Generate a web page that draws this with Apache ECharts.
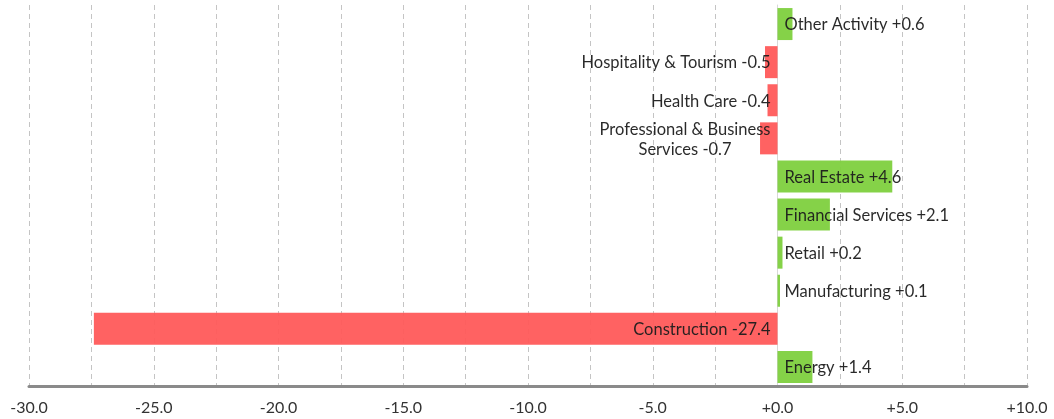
<!DOCTYPE html>
<html>
<head>
<meta charset="utf-8">
<script src="https://cdn.jsdelivr.net/npm/echarts@6/dist/echarts.min.js"></script>
<style>
html,body{margin:0;padding:0;background:#fff;}
#chart{width:1054px;height:419px;}
</style>
</head>
<body>
<div id="chart"></div>
<script>
// Categories from bottom to top
const categories = ["Energy", "Construction", "Manufacturing", "Retail", "Financial Services", "Real Estate", "Professional & Business Services", "Health Care", "Hospitality & Tourism", "Other Activity"];
const values = [1.4, -27.4, 0.1, 0.2, 2.1, 4.6, -0.7, -0.4, -0.5, 0.6];
const tickLabels = ["-30.0", "-25.0", "-20.0", "-15.0", "-10.0", "-5.0", "+0.0", "+5.0", "+10.0"];

const POS = '#7ED03E', NEG = '#FF5A5A';
function fmt(v){ return (v >= 0 ? '+' : '') + v.toFixed(1); }

const data = values.map((v, i) => {
  const name = categories[i];
  let label;
  if (name === "Professional & Business Services") {
    label = {
      position: 'insideRight',
      formatter: '{c|Professional & Business}\n{c|Services ' + fmt(v) + '}'
    };
  } else {
    label = { position: v >= 0 ? 'insideLeft' : 'insideRight' };
  }
  return {
    value: v,
    itemStyle: { color: v >= 0 ? POS : NEG },
    label: label
  };
});

const chart = echarts.init(document.getElementById('chart'));
chart.setOption({
  animation: false,
  grid: { left: 29, right: 27, top: 5, bottom: 33, containLabel: false },
  xAxis: {
    type: 'value',
    min: -30, max: 10, interval: 2.5,
    axisLine: { show: true, onZero: false, lineStyle: { color: '#8a8a8a', width: 3 } },
    axisTick: { show: false },
    splitLine: { show: true, lineStyle: { color: '#c4c4c4', type: [5, 4], width: 1 } },
    axisLabel: {
      margin: 14,
      fontFamily: 'Lato', fontSize: 16, color: '#333',
      formatter: function (v) {
        const s = fmt(v);
        return tickLabels.indexOf(s) >= 0 ? s : '';
      }
    }
  },
  yAxis: {
    type: 'category',
    data: categories,
    axisLine: { show: true, onZero: true, lineStyle: { color: '#d8d8d8', width: 1 } },
    axisTick: { show: false },
    axisLabel: { show: false },
    splitLine: { show: false }
  },
  series: [{
    type: 'bar',
    data: data,
    barCategoryGap: '16%',
    itemStyle: { opacity: 0.95 },
    label: {
      show: true,
      distance: 7,
      offset: [0, 1],
      fontFamily: 'Lato', fontSize: 16.5, color: '#1e1e1e',
      formatter: function (p) { return p.name + ' ' + fmt(p.value); },
      rich: { c: { align: 'center', fontFamily: 'Lato', fontSize: 16.5, color: '#1e1e1e', lineHeight: 20 } }
    }
  }]
});
</script>
</body>
</html>
